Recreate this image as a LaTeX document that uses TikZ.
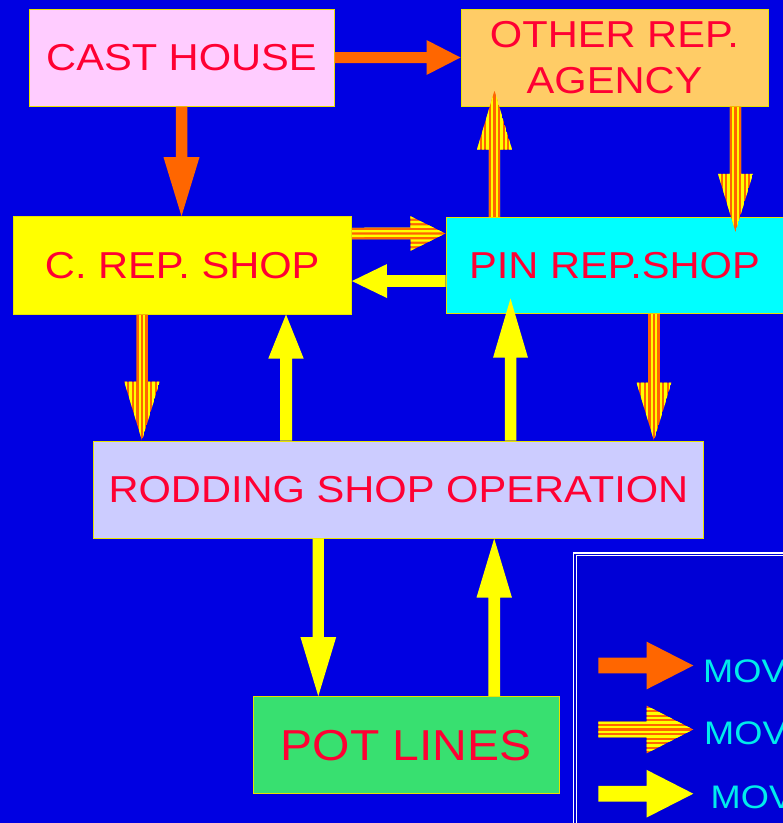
\documentclass[tikz,border=0pt]{standalone}
\usepackage{fontspec}
\setmainfont[FakeStretch=1.11]{Liberation Sans}
\usetikzlibrary{calc}
\definecolor{bg}{RGB}{0,0,226}
\definecolor{legbg}{RGB}{0,0,214}
\definecolor{boxline}{RGB}{232,226,0}
\definecolor{txtred}{RGB}{255,0,51}
\definecolor{arrorange}{RGB}{255,102,0}
\definecolor{arryellow}{RGB}{255,255,0}
\definecolor{castc}{RGB}{255,204,255}
\definecolor{otherc}{RGB}{255,204,102}
\definecolor{crepc}{RGB}{255,255,0}
\definecolor{pinc}{RGB}{0,255,255}
\definecolor{rodc}{RGB}{204,204,255}
\definecolor{potc}{RGB}{56,224,112}
\definecolor{legtxt}{RGB}{0,235,235}
% block arrow helpers: A, B, shaft half width, head half width, head length
\newcommand\baSetup[5]{%
  \path #1 coordinate (baA);
  \path #2 coordinate (baB);
  \coordinate (baH) at ($(baB)!#5!(baA)$);
  \def\baw{#3}\def\bahw{#4}}
\newcommand\baShape[1]{#1 ($(baA)!\baw!90:(baB)$) -- ($(baH)!\baw!90:(baB)$)
  -- ($(baH)!\bahw!90:(baB)$) -- (baB) -- ($(baH)!\bahw!-90:(baB)$)
  -- ($(baH)!\baw!-90:(baB)$) -- ($(baA)!\baw!-90:(baB)$) -- cycle;}
\newcommand\solidarrow[6]{\baSetup{#2}{#3}{#4}{#5}{#6}\baShape{\fill[#1]}}
\newcommand\stripedarrow[5]{\baSetup{#1}{#2}{#3}{#4}{#5}%
  \begin{scope}
    \baShape{\clip}
    \baShape{\fill[arrorange]}
    \foreach \k in {2.3pt,6.9pt,11.5pt,16.1pt,20.7pt,25.3pt}{
      \draw[arryellow,line width=2.3pt] ($(baA)!\k!90:(baB)$) -- ($(baB)!\k!-90:(baA)$);
      \draw[arryellow,line width=2.3pt] ($(baA)!\k!-90:(baB)$) -- ($(baB)!\k!90:(baA)$);
    }
  \end{scope}}
\begin{document}
\begin{tikzpicture}[x=1pt,y=-1pt,
  box/.style={draw=boxline, line width=1pt, inner sep=0pt, text=txtred,
    font=\fontsize{37.5pt}{45.6pt}\selectfont, align=center},
  legtext/.style={anchor=base west, inner sep=0pt, text=legtxt,
    font=\fontsize{32.6pt}{36pt}\selectfont}]
\useasboundingbox (0,0) rectangle (783,823);
\begin{scope}
\clip (0,0) rectangle (783,823);
\fill[bg] (0,0) rectangle (783,823);
% legend frame
\fill[legbg] (573.5,553.1) rectangle (800,850);
\draw[white, line width=1.3pt] (573.5,553.1) rectangle (800,850);
\draw[white, line width=0.9pt] (576.2,555.8) rectangle (800,850);
% boxes
\node[box, fill=castc, minimum width=305pt, minimum height=97pt] (cast) at (181.5,57.5) {CAST HOUSE};
\node[box, fill=otherc, minimum width=307pt, minimum height=97pt] (other) at (614.5,57.5) {OTHER REP.\\AGENCY};
\node[box, fill=crepc, minimum width=338.5pt, minimum height=97.3pt] (crep) at (182.25,265.35) {C. REP. SHOP};
\node[box, fill=pinc, minimum width=337pt, minimum height=96pt] (pin) at (614.5,265.3) {PIN REP.SHOP};
\node[box, fill=rodc, minimum width=609.8pt, minimum height=97pt] (rod) at (398.4,489.5) {RODDING SHOP OPERATION};
\node[box, fill=potc, minimum width=306pt, minimum height=97.3pt,
  font=\fontsize{43.3pt}{50pt}\selectfont] (pot) at (406.3,745.3) {POT LINES};
% connectors
\solidarrow{arrorange}{(cast.east)}{(other.west)}{5.5pt}{17.5pt}{34pt}
\solidarrow{arrorange}{(cast.south)}{(cast.south |- crep.north)}{5.75pt}{18pt}{59pt}
\stripedarrow{([xshift=-120pt]pin.north)}{([xshift=-120pt,yshift=16pt]other.south)}{5.6pt}{17.5pt}{59pt}
\stripedarrow{([xshift=121pt]other.south)}{([xshift=121pt,yshift=-15pt]pin.north)}{5.6pt}{17.5pt}{58pt}
\stripedarrow{([yshift=31.8pt]crep.east)}{([yshift=31.8pt]pin.west)}{5.8pt}{17.3pt}{35pt}
\solidarrow{arryellow}{([yshift=-15.7pt]pin.west)}{([yshift=-15.7pt]crep.east)}{5.8pt}{17pt}{35pt}
\stripedarrow{([xshift=-40.25pt]crep.south)}{([xshift=-256.4pt]rod.north)}{5.75pt}{17.8pt}{59pt}
\solidarrow{arryellow}{([xshift=-112.4pt]rod.north)}{([xshift=103.75pt]crep.south)}{6pt}{17.7pt}{44pt}
\solidarrow{arryellow}{([xshift=112.1pt]rod.north)}{([xshift=-104pt,yshift=15.3pt]pin.south)}{5.75pt}{17.4pt}{59pt}
\stripedarrow{([xshift=39.5pt]pin.south)}{([xshift=255.6pt]rod.north)}{5.8pt}{17.5pt}{58pt}
\solidarrow{arryellow}{([xshift=-80.1pt]rod.south)}{([xshift=-88pt]pot.north)}{5.65pt}{17.85pt}{59pt}
\solidarrow{arryellow}{([xshift=87.9pt]pot.north)}{([xshift=95.8pt]rod.south)}{5.85pt}{17.7pt}{59pt}
% legend
\coordinate (l1a) at (598.3,665.5); \coordinate (l1b) at (693.3,665.5);
\coordinate (l2a) at (598.3,729.5); \coordinate (l2b) at (693.3,729.5);
\coordinate (l3a) at (598.3,793.7); \coordinate (l3b) at (693.3,793.7);
\solidarrow{arrorange}{(l1a)}{(l1b)}{7.8pt}{23.8pt}{46.6pt}
\stripedarrow{(l2a)}{(l2b)}{7.8pt}{23.8pt}{46.6pt}
\solidarrow{arryellow}{(l3a)}{(l3b)}{7.8pt}{23.8pt}{46.6pt}
\node[legtext] (m1) at (703,682.7) {MOV};
\node[legtext] (m2) at (704,744) {MOV};
\node[legtext] (m3) at (710.5,808.3) {MOV};
\end{scope}
\end{tikzpicture}
\end{document}
